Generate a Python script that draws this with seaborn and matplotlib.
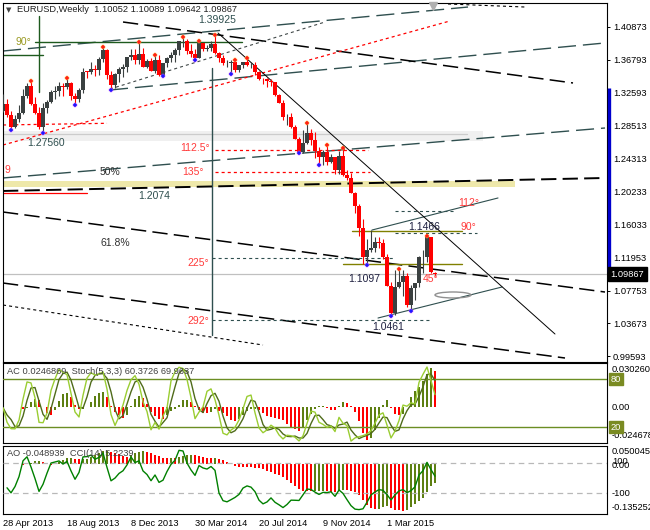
import numpy as np
import pandas as pd
import matplotlib
matplotlib.use("Agg")
import matplotlib.pyplot as plt
import matplotlib.transforms as mtransforms
from matplotlib.patches import Ellipse, Rectangle
import seaborn as sns

W, H = 650, 530

# EURUSD weekly candles, week of 28 Apr 2013 onwards
opens = [1.3030, 1.3115, 1.2987, 1.2834, 1.2933, 1.3004, 1.3222, 1.3345, 1.3120, 1.3010,
         1.2832, 1.3068, 1.3145, 1.3278, 1.3282, 1.3343, 1.3329, 1.3380, 1.3220, 1.3178,
         1.3300, 1.3525, 1.3523, 1.3557, 1.3553, 1.3682, 1.3801, 1.3484, 1.3365, 1.3498,
         1.3556, 1.3590, 1.3705, 1.3742, 1.3677, 1.3743, 1.3590, 1.3665, 1.3540, 1.3678,
         1.3487, 1.3634, 1.3693, 1.3741, 1.3803, 1.3911, 1.3913, 1.3790, 1.3752, 1.3703,
         1.3886, 1.3813, 1.3830, 1.3869, 1.3755, 1.3696, 1.3632, 1.3634, 1.3642, 1.3542,
         1.3607, 1.3646, 1.3605, 1.3606, 1.3526, 1.3430, 1.3429, 1.3415, 1.3402, 1.3240,
         1.3132, 1.2952, 1.2963, 1.2833, 1.2684, 1.2525, 1.2627, 1.2760, 1.2670, 1.2527,
         1.2454, 1.2524, 1.2391, 1.2453, 1.2290, 1.2464, 1.2226, 1.2189, 1.2001, 1.1842,
         1.1567, 1.1205, 1.1290, 1.1316, 1.1390, 1.1381, 1.1197, 1.0841, 1.0495, 1.0822,
         1.0890, 1.0969, 1.0600, 1.0807, 1.0874, 1.1198, 1.1202, 1.1448, 1.10052]
highs = [1.3242, 1.3180, 1.3030, 1.2980, 1.3107, 1.3306, 1.3390, 1.3416, 1.3212, 1.3080,
         1.3128, 1.3175, 1.3297, 1.3346, 1.3399, 1.3384, 1.3452, 1.3399, 1.3256, 1.3325,
         1.3569, 1.3538, 1.3646, 1.3609, 1.3705, 1.3832, 1.3815, 1.3530, 1.3510, 1.3586,
         1.3621, 1.3709, 1.3811, 1.3812, 1.3893, 1.3830, 1.3687, 1.3700, 1.3739, 1.3730,
         1.3640, 1.3717, 1.3773, 1.3825, 1.3915, 1.3967, 1.3937, 1.3876, 1.3811, 1.3906,
         1.3871, 1.3857, 1.3906, 1.3993, 1.3771, 1.3734, 1.3670, 1.3670, 1.3677, 1.3614,
         1.3652, 1.3700, 1.3648, 1.3642, 1.3529, 1.3446, 1.3447, 1.3433, 1.3403, 1.3245,
         1.3171, 1.2995, 1.3003, 1.2859, 1.2704, 1.2791, 1.2887, 1.2813, 1.2764, 1.2577,
         1.2540, 1.2601, 1.2500, 1.2457, 1.2532, 1.2570, 1.2296, 1.2250, 1.2011, 1.1868,
         1.1679, 1.1423, 1.1534, 1.1448, 1.1448, 1.1428, 1.1244, 1.0888, 1.1043, 1.1052,
         1.1034, 1.0995, 1.0849, 1.0851, 1.1213, 1.1290, 1.1466, 1.1450, 1.10089]
lows = [1.3015, 1.2953, 1.2796, 1.2815, 1.2890, 1.2994, 1.3202, 1.3104, 1.2992, 1.2810,
        1.2756, 1.3008, 1.3135, 1.3187, 1.3222, 1.3225, 1.3310, 1.3175, 1.3103, 1.3150,
        1.3253, 1.3453, 1.3497, 1.3475, 1.3483, 1.3654, 1.3434, 1.3295, 1.3321, 1.3400,
        1.3466, 1.3518, 1.3678, 1.3625, 1.3624, 1.3589, 1.3573, 1.3529, 1.3507, 1.3478,
        1.3476, 1.3586, 1.3642, 1.3644, 1.3736, 1.3831, 1.3750, 1.3706, 1.3672, 1.3697,
        1.3780, 1.3781, 1.3792, 1.3752, 1.3648, 1.3614, 1.3585, 1.3502, 1.3524, 1.3524,
        1.3574, 1.3594, 1.3575, 1.3491, 1.3422, 1.3367, 1.3333, 1.3346, 1.3217, 1.3129,
        1.2919, 1.2861, 1.2815, 1.2679, 1.2501, 1.2506, 1.2624, 1.2613, 1.2440, 1.2357,
        1.2359, 1.2359, 1.2380, 1.2246, 1.2246, 1.2219, 1.2165, 1.2000, 1.1753, 1.1460,
        1.1115, 1.1098, 1.1270, 1.1270, 1.1316, 1.1176, 1.0840, 1.0461, 1.0470, 1.0813,
        1.0712, 1.0571, 1.0520, 1.0662, 1.0819, 1.1000, 1.1135, 1.1000, 1.09642]
closes = [1.3115, 1.2987, 1.2834, 1.2933, 1.3004, 1.3222, 1.3345, 1.3120, 1.3010, 1.2832,
          1.3068, 1.3145, 1.3278, 1.3282, 1.3343, 1.3329, 1.3380, 1.3220, 1.3178, 1.3300,
          1.3525, 1.3523, 1.3557, 1.3553, 1.3682, 1.3801, 1.3484, 1.3365, 1.3498, 1.3556,
          1.3590, 1.3705, 1.3742, 1.3677, 1.3743, 1.3590, 1.3665, 1.3540, 1.3678, 1.3487,
          1.3634, 1.3693, 1.3741, 1.3803, 1.3911, 1.3913, 1.3790, 1.3752, 1.3703, 1.3886,
          1.3813, 1.3830, 1.3869, 1.3755, 1.3696, 1.3632, 1.3634, 1.3642, 1.3542, 1.3607,
          1.3646, 1.3605, 1.3606, 1.3526, 1.3430, 1.3429, 1.3415, 1.3402, 1.3240, 1.3132,
          1.2952, 1.2963, 1.2833, 1.2684, 1.2525, 1.2627, 1.2760, 1.2670, 1.2527, 1.2454,
          1.2524, 1.2391, 1.2453, 1.2290, 1.2464, 1.2226, 1.2189, 1.2001, 1.1842, 1.1567,
          1.1205, 1.1290, 1.1316, 1.1390, 1.1381, 1.1197, 1.0841, 1.0495, 1.0822, 1.0890,
          1.0969, 1.0600, 1.0807, 1.0874, 1.1198, 1.1202, 1.1448, 1.1016, 1.09867]

xtick_pos = [0, 16, 32, 48, 64, 80, 96]
xtick_labels = ["28 Apr 2013", "18 Aug 2013", "8 Dec 2013", "30 Mar 2014",
                "20 Jul 2014", "9 Nov 2014", "1 Mar 2015"]
price_ticks = [1.40873, 1.36793, 1.32593, 1.28513, 1.24313, 1.20233,
               1.16033, 1.11953, 1.07753, 1.03673, 0.99593]
last_price = 1.09867
header = "EURUSD,Weekly  1.10052 1.10089 1.09642 1.09867"
ac_header = "AC 0.0246869  Stoch(5,3,3) 60.3726 69.9637"
ao_header = "AO -0.048939  CCI(14) 5.2239"
ac_range = (-0.024678, 0.030260)
ao_range = (-0.135252, 0.050045)

# drawn objects (bar index, price)
dashed_slate = [(0, 1.3786, 116.25, 1.4338), (26.75, 1.3297, 150.5, 1.3887),
                (0, 1.2193, 150.5, 1.2820)]
dashed_black = [(30, 1.4150, 142.5, 1.3385), (0, 1.1766, 150.5, 1.0762),
                (0, 1.0875, 140.5, 0.9934)]
dotted_black = [(0, 1.0599, 65, 1.0097), (111.25, 1.4376, 130.5, 1.4338)]
dotted_slate = [(26.75, 1.3309, 80.5, 1.4150)]
fan_line = (53.75, 1.4012, 138, 1.0235)
red_dotted = [(0, 1.2607, 111.75, 1.4163), (0, 1.2858, 26, 1.2879),
              (53, 1.2544, 91.25, 1.2544), (53, 1.2268, 91.75, 1.2268)]
level_dotted = [(52.25, 1.1189, 97.5, 1.1189), (52.25, 1.0411, 106.75, 1.0411),
                (98, 1.1779, 113, 1.1779), (98, 1.1503, 118.5, 1.1503)]
olive_levels = [(87.25, 1.1528, 114.75, 1.1528), (85, 1.1114, 114.75, 1.1114)]
channel = [(92.25, 1.1540, 123.75, 1.1942), (93.75, 1.0436, 124.75, 1.0825)]
green_lines = [(8, 1.3903, 59.75, 1.3903), (9, 1.4225, 9, 1.3272), (0, 1.3736, 10, 1.3736)]
vline_52 = (52.25, 1.3573, 1.0223)
level_band = (0, 128, 1.2080, 1.2155)
grey_band = (0, 120, 1.2657, 1.2783, 1.2745)
black_thick = (0, 1.2030, 150.5, 1.2193)
red_short = (0, 1.2005, 21, 1.2005)
ellipse = (112.5, 1.0725, 9, 0.0075)
blue_bar = (1.3322, 1.1013)

labels = [
    (48.75, 1.4175, "1.39925", "#2f4f4f", "left"),
    (6.0, 1.2632, "1.27560", "#2f4f4f", "left"),
    (3.0, 1.3899, "90°", "#9a9a22", "left"),
    (51.8, 1.2569, "112.5°", "#ff3b3b", "right"),
    (50.2, 1.2268, "135°", "#ff3b3b", "right"),
    (0.3, 1.2293, "9", "#ff3b3b", "left"),
    (24.25, 1.2268, "50%", "#303030", "left"),
    (33.75, 1.1967, "1.2074", "#2f4f4f", "left"),
    (24.25, 1.1377, "61.8%", "#303030", "left"),
    (51.6, 1.1126, "225°", "#ff3b3b", "right"),
    (51.6, 1.0399, "292°", "#ff3b3b", "right"),
    (101.25, 1.1578, "1.1466", "#1e2040", "left"),
    (86.25, 1.0925, "1.1097", "#1e2040", "left"),
    (92.25, 1.0323, "1.0461", "#1e2040", "left"),
    (113.75, 1.1879, "112°", "#ff3b3b", "left"),
    (114.25, 1.1578, "90°", "#ff3b3b", "left"),
    (105.0, 1.0925, "45°", "#ff3b3b", "left"),
]

# ---- data frame and indicators
df = pd.DataFrame({"open": opens, "high": highs, "low": lows, "close": closes})
df["idx"] = np.arange(len(df))
bull = df["close"] >= df["open"]

hi, lo = df["high"], df["low"]
frac_up = (hi > hi.shift(1)) & (hi > hi.shift(2)) & (hi >= hi.shift(-1)) & (hi >= hi.shift(-2))
frac_dn = (lo < lo.shift(1)) & (lo < lo.shift(2)) & (lo <= lo.shift(-1)) & (lo <= lo.shift(-2))

med = (hi + lo) / 2
df["ao"] = med.rolling(5, min_periods=1).mean() - med.rolling(34, min_periods=1).mean()
df["ac"] = df["ao"] - df["ao"].rolling(5, min_periods=1).mean()

ll = lo.rolling(5, min_periods=1).min()
hh = hi.rolling(5, min_periods=1).max()
df["k"] = ((df["close"] - ll).rolling(3, min_periods=1).sum()
           / (hh - ll).rolling(3, min_periods=1).sum() * 100)
df["d"] = df["k"].rolling(3, min_periods=1).mean()

tp = (hi + lo + df["close"]) / 3
sma = tp.rolling(14, min_periods=2).mean()
mad = tp.rolling(14, min_periods=2).apply(lambda a: np.mean(np.abs(a - a.mean())), raw=True)
df["cci"] = (tp - sma) / (0.015 * mad)

# ---- figure
sns.set_style("white")
plt.rcParams["font.family"] = ["Liberation Sans", "DejaVu Sans"]
plt.rcParams["lines.scale_dashes"] = False
FS = 6.7
SLATE = "#2f4f4f"
OLIVE = "#6b8e23"

fig = plt.figure(figsize=(6.5, 5.3), dpi=100)


def rect(x0, y0, x1, y1):
    return [x0 / W, 1 - y1 / H, (x1 - x0) / W, (y1 - y0) / H]


ax = fig.add_axes(rect(2.7, 3, 607, 362))
ax_ac = fig.add_axes(rect(2.7, 363, 607, 443), sharex=ax)
ax_ao = fig.add_axes(rect(2.7, 445.5, 607, 514), sharex=ax)

ppx = (price_ticks[0] - price_ticks[-1]) / (356 - 27)
ax.set_ylim(price_ticks[0] - (362 - 27) * ppx, price_ticks[0] + (27 - 3) * ppx)
ax.set_xlim(-0.08, 151)

DASH_LONG = (0, (11, 4.5))
DASH_SLATE = (0, (13, 5))
DOT = (0, (2.2, 2.2))

ax.add_patch(Rectangle((level_band[0] - 1, level_band[2]), level_band[1] - level_band[0] + 1,
                       level_band[3] - level_band[2], color="#eee8aa", zorder=0.5, lw=0))
ax.add_patch(Rectangle((grey_band[0] - 1, grey_band[2]), grey_band[1] - grey_band[0] + 1,
                       grey_band[3] - grey_band[2], color="#f0f0f0", zorder=0.4, lw=0))
ax.plot([grey_band[0], grey_band[1] - 4], [grey_band[4]] * 2, color="#cccccc", lw=0.9, zorder=0.6)

for x0, p0, x1, p1 in dashed_slate:
    ax.plot([x0, x1], [p0, p1], color=SLATE, lw=1.0, ls=DASH_SLATE, zorder=1)
for x0, p0, x1, p1 in dashed_black:
    ax.plot([x0, x1], [p0, p1], color="black", lw=1.1, ls=DASH_LONG, zorder=1)
for x0, p0, x1, p1 in dotted_black:
    ax.plot([x0, x1], [p0, p1], color="black", lw=0.8, ls=DOT, zorder=1)
for x0, p0, x1, p1 in dotted_slate:
    ax.plot([x0, x1], [p0, p1], color="#404848", lw=0.8, ls=DOT, zorder=1)
for x0, p0, x1, p1 in red_dotted:
    ax.plot([x0, x1], [p0, p1], color="#ff0000", lw=0.9, ls=DOT, zorder=1)
for x0, p0, x1, p1 in level_dotted:
    ax.plot([x0, x1], [p0, p1], color=SLATE, lw=0.8, ls=DOT, zorder=1)
for x0, p0, x1, p1 in olive_levels:
    ax.plot([x0, x1], [p0, p1], color="#808000", lw=1.0, zorder=1)
for x0, p0, x1, p1 in channel:
    ax.plot([x0, x1], [p0, p1], color=SLATE, lw=0.8, zorder=1)
for x0, p0, x1, p1 in green_lines:
    ax.plot([x0, x1], [p0, p1], color="#1e5a1e", lw=1.0, zorder=1)
ax.plot([black_thick[0], black_thick[2]], [black_thick[1], black_thick[3]],
        color="black", lw=1.4, ls=DASH_LONG, zorder=1.2)
ax.plot([red_short[0], red_short[2]], [red_short[1], red_short[3]], color="#ff0000", lw=0.9, zorder=1)
ax.plot([fan_line[0], fan_line[2]], [fan_line[1], fan_line[3]], color="black", lw=0.7, zorder=2)
ax.plot([vline_52[0]] * 2, [vline_52[1], vline_52[2]], color=SLATE, lw=1.0, zorder=1)
ax.axhline(last_price, color="#c0c0c0", lw=0.9, zorder=0.8)
ax.add_patch(Ellipse((ellipse[0], ellipse[1]), ellipse[2], ellipse[3], fill=False,
                     ec="#909090", lw=1.0, zorder=2))

# candles
colors = np.where(bull, "#3a4040", "#ff0000")
ax.vlines(df["idx"], df["low"], df["high"], colors=colors, lw=0.8, zorder=3)
body_lo = np.minimum(df["open"], df["close"])
body_h = np.maximum(np.abs(df["close"] - df["open"]), 0.0006)
ax.bar(df["idx"], body_h, bottom=body_lo, width=0.78, color=colors, lw=0, zorder=3)

# fractals
ax.scatter(df["idx"][frac_up], df["high"][frac_up], marker="P", s=11, color="#ff1a1a",
           edgecolor="#ffa030", linewidth=0.3, zorder=4)
ax.scatter(df["idx"][frac_dn], df["low"][frac_dn], marker="P", s=11, color="#1a1aff",
           edgecolor="#c050ff", linewidth=0.3, zorder=4)

for x, p, t, c, ha in labels:
    ax.text(x, p, t, color=c, ha=ha, va="center", fontsize=FS + 0.8, zorder=5)

# right price scale
ax.yaxis.tick_right()
ax.set_yticks(price_ticks)
ax.set_yticklabels([f"{v:.5f}" for v in price_ticks])
ax.tick_params(axis="y", direction="out", length=2.5, width=0.7, pad=1.8, labelsize=FS, colors="black")
ax.tick_params(axis="x", bottom=False, labelbottom=False)
blend = mtransforms.blended_transform_factory(ax.transAxes, ax.transData)
ax.plot([1.003, 1.003], list(blue_bar), color="#0000cd", lw=2.4, transform=blend,
        clip_on=False, zorder=6, solid_capstyle="butt")
ax.text(1.006, last_price, f"{last_price:.5f}", transform=blend, color="white", fontsize=FS,
        ha="left", va="center", zorder=7,
        bbox=dict(boxstyle="square,pad=0.25", fc="black", ec="black"))
ax.plot(107.5, ax.get_ylim()[1] - 2.5 * ppx, marker="v", color="#b0b0b0", ms=6,
        clip_on=False, zorder=6)

# ---- AC + Stochastic panel
ac_col = np.where(df["ac"].diff().fillna(0) >= 0, "#5d7f12", "#ff0000")
ax_ac.bar(df["idx"], df["ac"], width=0.28, color=ac_col, lw=0)
ax_ac.set_ylim(*ac_range)
st = ax_ac.twinx()
st.set_ylim(0, 100)
st.axhline(80, color=OLIVE, lw=1.0)
st.axhline(20, color=OLIVE, lw=1.0)
sns.lineplot(x=df["idx"], y=df["d"], ax=st, color="#4f6b1a", lw=1.0, legend=False)
sns.lineplot(x=df["idx"], y=df["k"], ax=st, color="#9acd32", lw=1.0, legend=False)

# ---- AO + CCI panel
ao_col = np.where(df["ao"].diff().fillna(0) >= 0, "#5d7f12", "#ff0000")
ax_ao.bar(df["idx"], df["ao"], width=0.28, color=ao_col, lw=0)
ax_ao.set_ylim(*ao_range)
cc = ax_ao.twinx()
cc.set_ylim(-240, 213)
cc.axhline(100, color="#b8b8b8", lw=0.9, ls=(0, (4, 3)))
cc.axhline(-100, color="#b8b8b8", lw=0.9, ls=(0, (4, 3)))
sns.lineplot(x=df["idx"], y=df["cci"], ax=cc, color="#008000", lw=1.0, legend=False)

for a in (ax_ac, st, ax_ao, cc):
    a.set_xlabel("")
    a.set_ylabel("")
    a.set_yticks([])
ax.set_xlabel("")
ax.set_ylabel("")
ax_ac.tick_params(axis="x", bottom=False, labelbottom=False)
ax_ao.set_xticks(xtick_pos)
ax_ao.set_xticklabels(xtick_labels, ha="left")
ax_ao.tick_params(axis="x", direction="out", length=3, width=0.7, pad=0.5, labelsize=FS, colors="black")
ax.set_xlim(-0.08, 151)

for a in (ax, ax_ac, ax_ao):
    for s in a.spines.values():
        s.set_color("black")
        s.set_linewidth(0.8)
for a in (st, cc):
    for s in a.spines.values():
        s.set_visible(False)


def ftext(x, y, s, size=FS, **kw):
    fig.text(x / W, 1 - y / H, s, fontsize=size, va="center", **kw)


ftext(17, 10, header, color="#202020")
ftext(6, 10, "▼", size=5, color="#404040", family="DejaVu Sans")
ftext(7, 371, ac_header, color="#404040")
ftext(7, 453, ao_header, color="#404040")

ftext(612, 369, f"{ac_range[1]:.6f}", color="black")
ftext(612, 407, "0.00", color="black")
ftext(612, 436, f"{ac_range[0]:.6f}", color="black")
ftext(612, 451, f"{ao_range[1]:.6f}", color="black")
ftext(612, 461, "100", color="black")
ftext(612, 465, "0.00", color="black")
ftext(612, 493, "-100", color="black")
ftext(612, 508, f"{ao_range[0]:.6f}", color="black")
for y, t in ((379, "80"), (427, "20")):
    ftext(611, y, t, color="white",
          bbox=dict(boxstyle="square,pad=0.2", fc="#7a8b22", ec="#7a8b22"))

fig.savefig("out.png", dpi=100)
